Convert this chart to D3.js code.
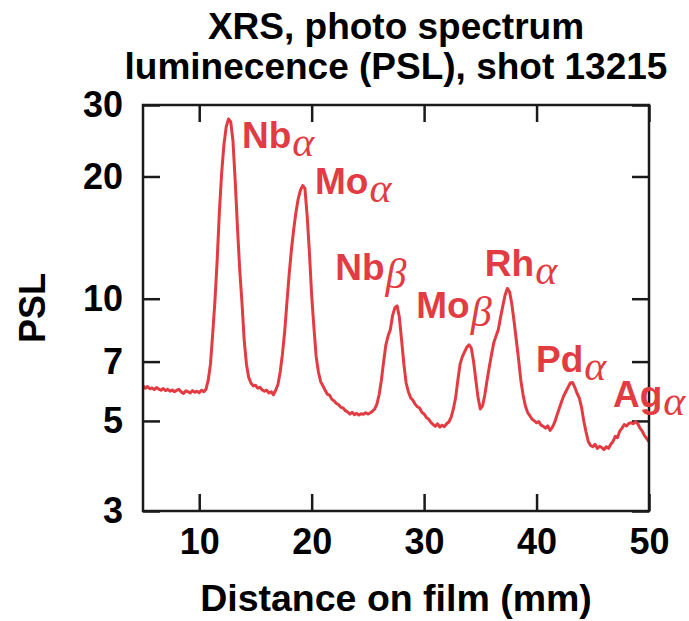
<!DOCTYPE html>
<html><head><meta charset="utf-8">
<script src="https://cdn.jsdelivr.net/npm/d3@7"></script>
<style>body{margin:0;background:#fff}svg{display:block}</style>
</head><body>
<script>
const xTicks = [10, 20, 30, 40, 50];
const yTicks = [3, 5, 7, 10, 20, 30];
const distance = [5.0,5.2,5.4,5.6,5.8,6.0,6.2,6.4,6.6,6.8,7.0,7.2,7.4,7.6,7.8,8.0,8.2,8.4,8.6,8.8,9.0,9.2,9.4,9.6,9.8,10.0,10.2,10.4,10.6,10.8,11.0,11.2,11.4,11.6,11.8,12.0,12.2,12.4,12.6,12.8,13.0,13.2,13.4,13.6,13.8,14.0,14.2,14.4,14.6,14.8,15.0,15.2,15.4,15.6,15.8,16.0,16.2,16.4,16.6,16.8,17.0,17.2,17.4,17.6,17.8,18.0,18.2,18.4,18.6,18.8,19.0,19.2,19.4,19.6,19.8,20.0,20.2,20.4,20.6,20.8,21.0,21.2,21.4,21.6,21.8,22.0,22.2,22.4,22.6,22.8,23.0,23.2,23.4,23.6,23.8,24.0,24.2,24.4,24.6,24.8,25.0,25.2,25.4,25.6,25.8,26.0,26.2,26.4,26.6,26.8,27.0,27.2,27.4,27.6,27.8,28.0,28.2,28.4,28.6,28.8,29.0,29.2,29.4,29.6,29.8,30.0,30.2,30.4,30.6,30.8,31.0,31.2,31.4,31.6,31.8,32.0,32.2,32.4,32.6,32.8,33.0,33.2,33.4,33.6,33.8,34.0,34.2,34.4,34.6,34.8,35.0,35.2,35.4,35.6,35.8,36.0,36.2,36.4,36.6,36.8,37.0,37.2,37.4,37.6,37.8,38.0,38.2,38.4,38.6,38.8,39.0,39.2,39.4,39.6,39.8,40.0,40.2,40.4,40.6,40.8,41.0,41.2,41.4,41.6,41.8,42.0,42.2,42.4,42.6,42.8,43.0,43.2,43.4,43.6,43.8,44.0,44.2,44.4,44.6,44.8,45.0,45.2,45.4,45.6,45.8,46.0,46.2,46.4,46.6,46.8,47.0,47.2,47.4,47.6,47.8,48.0,48.2,48.4,48.6,48.8,49.0,49.2,49.4,49.6,49.8,50.0];
const psl = [6.10,6.02,6.08,6.00,6.03,5.97,6.04,5.99,5.95,6.01,5.94,5.98,5.92,5.96,5.90,5.95,5.98,5.89,5.84,5.93,5.90,5.86,5.94,5.88,5.92,5.87,5.95,5.90,5.98,6.3,6.9,8.2,9.9,12.5,16.5,20.5,24.0,26.5,27.7,27.3,24.5,19.5,15.0,11.8,9.8,7.9,6.9,6.4,6.20,6.10,6.12,6.02,6.05,5.96,5.92,5.95,5.86,5.90,5.80,5.95,6.15,6.6,7.3,8.3,9.8,11.5,13.2,14.8,16.3,17.6,18.5,19.0,18.7,16.0,13.0,10.2,8.5,7.2,6.6,6.25,6.1,5.95,5.82,5.78,5.65,5.60,5.52,5.48,5.40,5.38,5.30,5.26,5.20,5.25,5.18,5.22,5.17,5.21,5.19,5.24,5.20,5.23,5.28,5.35,5.50,5.80,6.30,7.0,7.7,8.1,8.4,9.1,9.5,9.6,9.0,7.9,6.9,6.2,5.9,5.70,5.62,5.50,5.42,5.38,5.25,5.20,5.10,5.05,4.96,4.90,4.85,4.92,4.83,4.88,4.84,4.92,4.97,5.10,5.35,5.7,6.3,6.9,7.2,7.4,7.6,7.7,7.55,7.0,6.3,5.7,5.35,5.45,5.8,6.3,6.8,7.3,7.8,8.1,8.4,9.0,9.6,10.2,10.6,10.4,9.7,8.8,7.9,7.1,6.3,5.8,5.45,5.25,5.15,5.05,5.00,4.95,4.98,4.88,4.85,4.80,4.86,4.74,4.82,4.95,5.15,5.35,5.55,5.75,5.90,6.05,6.20,6.22,6.05,5.85,5.70,5.40,5.00,4.70,4.45,4.35,4.32,4.38,4.28,4.33,4.30,4.25,4.32,4.28,4.38,4.45,4.58,4.55,4.72,4.80,4.90,4.86,4.93,4.95,4.92,4.98,4.92,4.80,4.72,4.60,4.52,4.44];
const peakNames = ["Nb","Mo","Nb","Mo","Rh","Pd","Ag"];
const peakSubs = ["α","α","β","β","α","α","α"];
const peakX = [13.8, 20.3, 22.1, 29.3, 35.4, 39.95, 46.8];
const peakY = [23.5, 18.1, 11.1, 8.96, 11.4, 6.6, 5.41];

const W = 689, H = 621;
const m = {l:143, r:649, t:105, b:511};
const svg = d3.select("body").append("svg").attr("width", W).attr("height", H);
const x = d3.scaleLinear().domain([5, 50]).range([m.l, m.r]);
const y = d3.scaleLog().domain([3, 30]).range([m.b, m.t]);
const FONT = "'Liberation Sans', Arial, Helvetica, sans-serif";
const RED = "#e23c42";

function styleAxis(g){
  g.select(".domain").remove();
  g.selectAll(".tick line").attr("stroke","#1a1a1a").attr("stroke-width",2.5);
  g.selectAll("text").attr("font-family",FONT).attr("font-weight","bold").attr("font-size",36).attr("fill","#000");
}
svg.append("g").attr("transform",`translate(0,${m.b})`)
  .call(d3.axisBottom(x).tickValues(xTicks).tickSize(-17).tickPadding(17).tickFormat(d3.format("d"))).call(styleAxis);
svg.append("g").attr("transform",`translate(0,${m.t})`)
  .call(d3.axisTop(x).tickValues(xTicks).tickSize(-17).tickFormat("")).call(styleAxis);
svg.append("g").attr("transform",`translate(${m.l},0)`)
  .call(d3.axisLeft(y).tickValues(yTicks).tickSize(-17).tickPadding(20).tickFormat(d3.format("d"))).call(styleAxis);
svg.append("g").attr("transform",`translate(${m.r},0)`)
  .call(d3.axisRight(y).tickValues(yTicks).tickSize(-17).tickFormat("")).call(styleAxis);

const pts = distance.map((d,i)=>[d, psl[i]]);
svg.append("path").datum(pts)
  .attr("fill","none").attr("stroke",RED).attr("stroke-width",3).attr("stroke-linejoin","round")
  .attr("d", d3.line().x(d=>x(d[0])).y(d=>y(d[1])));

svg.append("rect").attr("x",m.l).attr("y",m.t).attr("width",m.r-m.l).attr("height",m.b-m.t)
  .attr("fill","none").attr("stroke","#1a1a1a").attr("stroke-width",2.5);

peakNames.forEach((n,i)=>{
  const t = svg.append("text").attr("x",x(peakX[i])).attr("y",y(peakY[i]))
    .attr("font-family",FONT).attr("font-weight","bold").attr("font-size",37).attr("fill",RED);
  t.append("tspan").text(n);
  t.append("tspan").attr("dy",8).attr("dx",1).attr("font-family","'Liberation Serif','DejaVu Serif',serif")
   .attr("font-style","italic").attr("font-weight","normal").attr("font-size",42).text(peakSubs[i]);
});

const cx = (m.l+m.r)/2;
svg.append("text").attr("x",cx).attr("y",39).attr("text-anchor","middle")
  .attr("font-family",FONT).attr("font-weight","bold").attr("font-size",37).text("XRS, photo spectrum");
svg.append("text").attr("x",cx).attr("y",79).attr("text-anchor","middle")
  .attr("font-family",FONT).attr("font-weight","bold").attr("font-size",37).text("luminecence (PSL), shot 13215");
svg.append("text").attr("x",cx).attr("y",611).attr("text-anchor","middle")
  .attr("font-family",FONT).attr("font-weight","bold").attr("font-size",37.5).text("Distance on film (mm)");
svg.append("text").attr("transform",`translate(45,${(m.t+m.b)/2}) rotate(-90)`).attr("text-anchor","middle")
  .attr("font-family",FONT).attr("font-weight","bold").attr("font-size",36).text("PSL");
</script>
</body></html>
